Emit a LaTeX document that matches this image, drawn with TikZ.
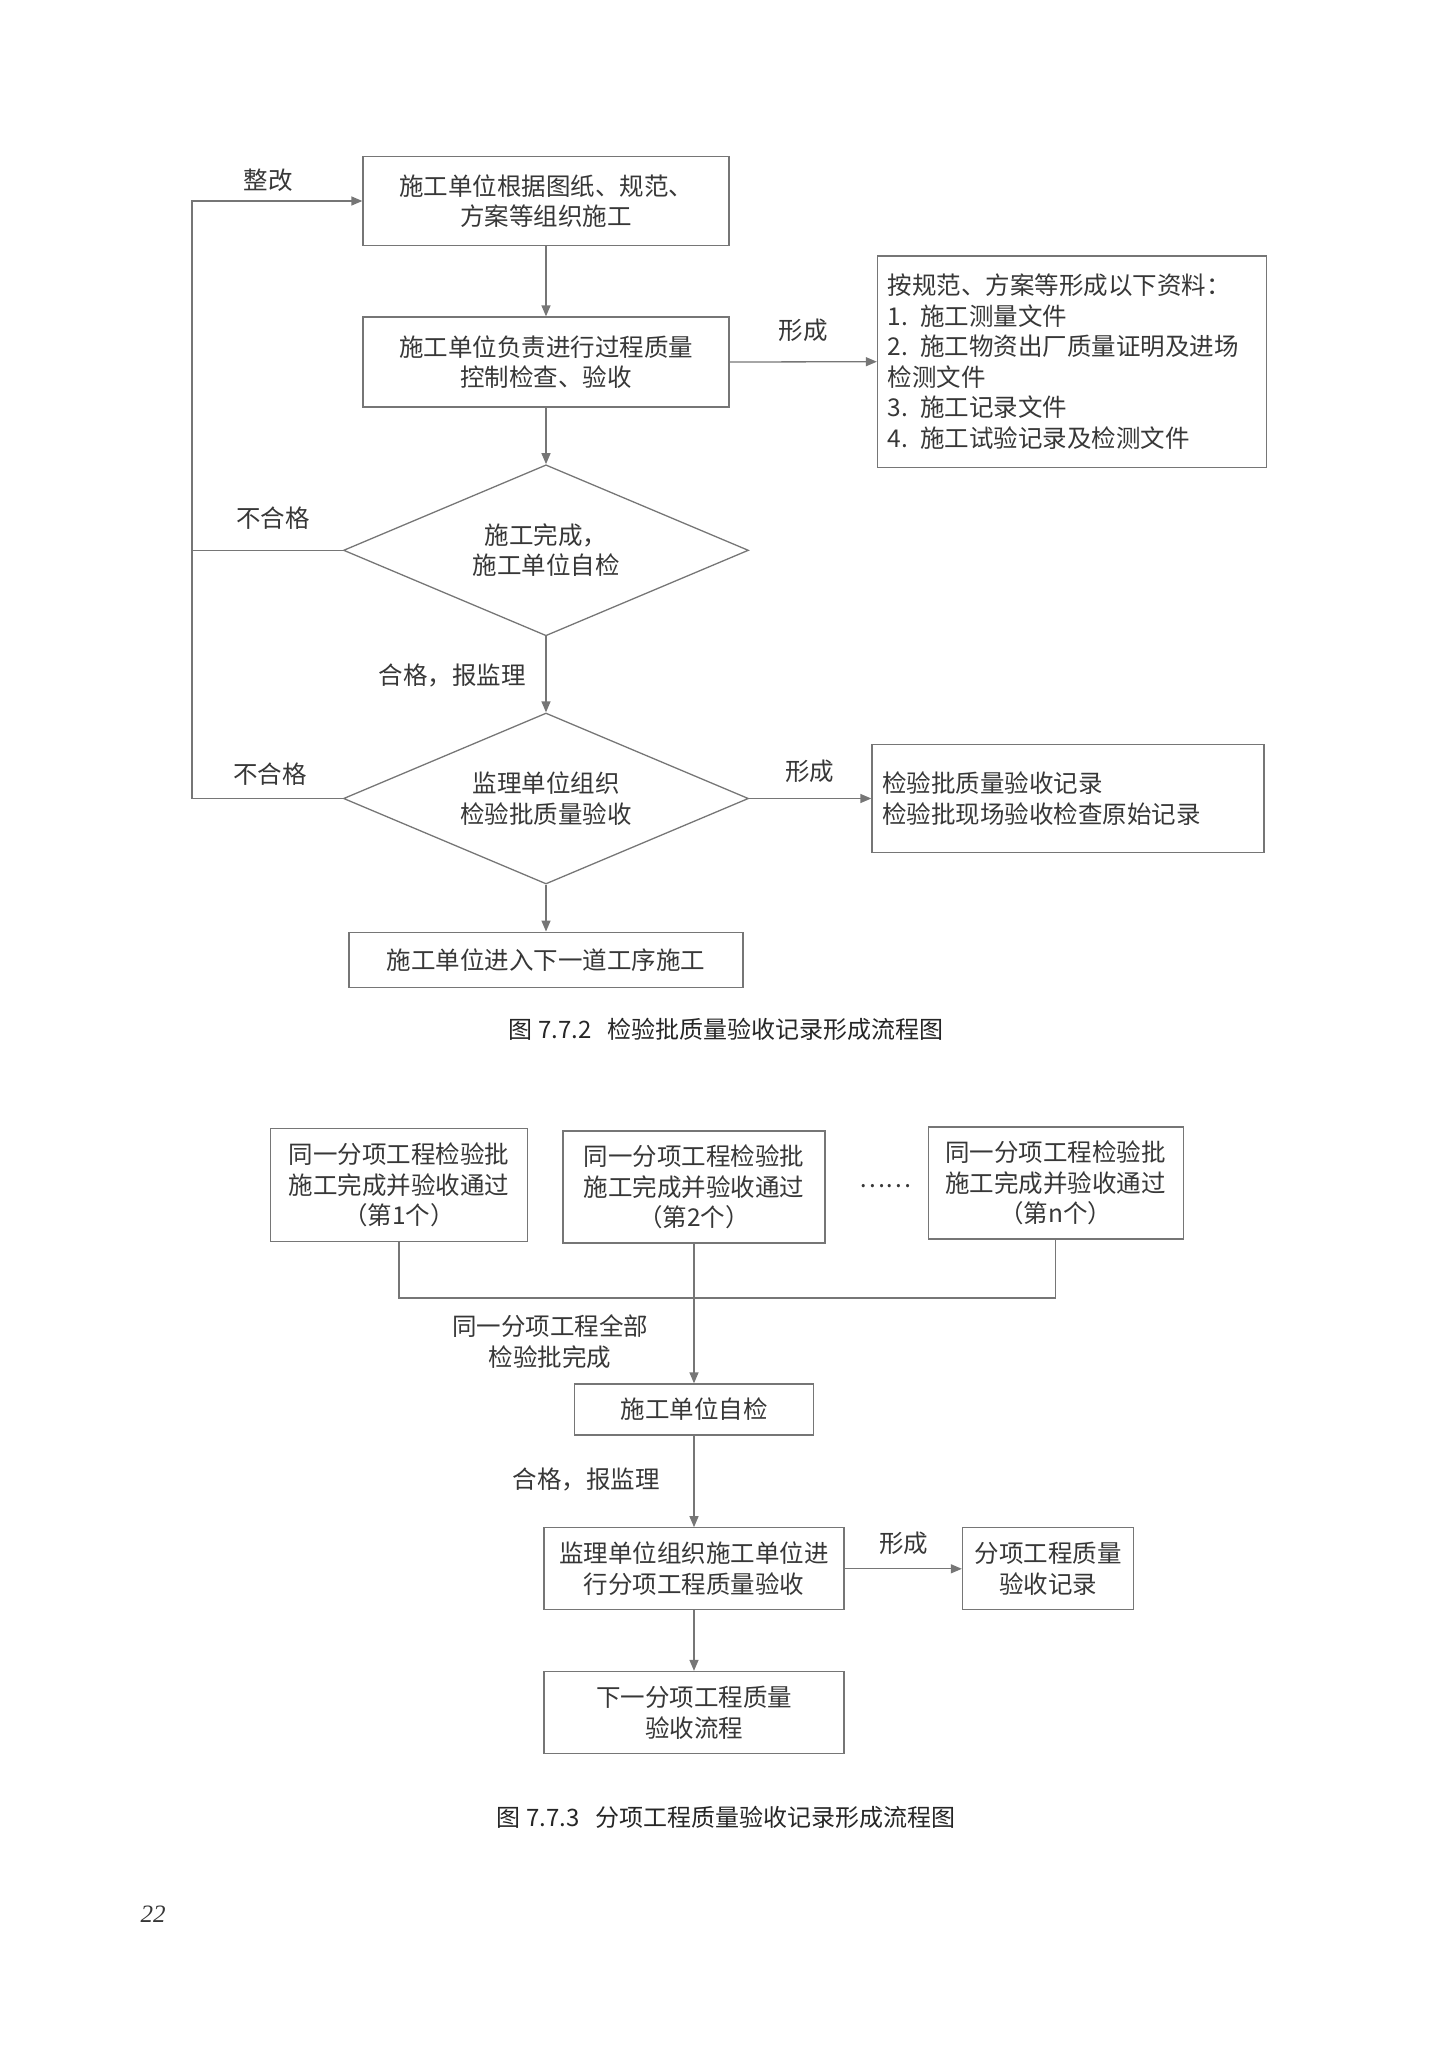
\documentclass[tikz,border=0pt]{standalone}
\usepackage{fontspec}
\setmainfont{Liberation Serif}
\newfontfamily\cjk{Noto Sans CJK SC}
\usetikzlibrary{shapes.geometric,arrows.meta}
\definecolor{linec}{RGB}{118,118,118}
\definecolor{txtc}{RGB}{55,55,55}
\tikzset{
  base/.style={font=\cjk\fontsize{24.5}{30.5}\selectfont, text=txtc},
  box/.style={base, draw=linec, line width=1.3pt, inner sep=0pt, align=center},
  lbox/.style={box, align=left, inner xsep=10pt},
  dia/.style={box, shape=diamond, shape aspect=2.37},
  lbl/.style={base, inner sep=0pt, align=center},
  arr/.style={draw=linec, line width=1.3pt, -{Triangle[length=11pt,width=9pt]}},
  plain/.style={draw=linec, line width=1.3pt},
  captxt/.style={font=\cjk\fontsize{24}{30}\selectfont, text=black!85, inner sep=0pt}
}
\begin{document}
\begin{tikzpicture}[x=1pt,y=-1pt]
\useasboundingbox (0,0) rectangle (1448,2048);
% ---------- Figure 7.7.2 ----------
\node[box, minimum width=366pt, minimum height=89pt] (b1) at (546,201) {施工单位根据图纸、规范、\\方案等组织施工};
\node[box, minimum width=366pt, minimum height=90pt] (b2) at (546,362) {施工单位负责进行过程质量\\控制检查、验收};
\node[lbox, text width=369pt, minimum height=211.5pt] (b3) at (1072,361.7) {按规范、方案等形成以下资料：\\1. 施工测量文件\\2. 施工物资出厂质量证明及进场\\检测文件\\3. 施工记录文件\\4. 施工试验记录及检测文件};
\node[dia, minimum width=405pt, minimum height=171pt] (d1) at (546,550.3) {施工完成，\\施工单位自检};
\node[dia, minimum width=405pt, minimum height=171pt] (d2) at (546,798.5) {监理单位组织\\检验批质量验收};
\node[lbox, text width=372pt, minimum height=108.4pt] (b4) at (1068,798.5) {检验批质量验收记录\\检验批现场验收检查原始记录};
\node[box, minimum width=394pt, minimum height=55pt] (b5) at (546,959.7) {施工单位进入下一道工序施工};
\coordinate (lx) at (192,201);

\draw[arr] (b1) -- (b2);
\draw[arr] (b2.east) -- (b3.west);
\draw[arr] (b2) -- (d1.north);
\draw[arr] (d1.south) -- (d2.north);
\draw[arr] (d2.east) -- (b4.west);
\draw[arr] (d2.south) -- (b5.north);
\draw[plain] (d1.west) -- (d1.west -| lx);
\draw[arr] (d2.west) -- (d2.west -| lx) -- (b1.west -| lx) -- (b1.west);

\node[lbl] (l1) at (268,180) {整改};
\node[lbl] (l2) at (803,330) {形成};
\node[lbl] (l3) at (273,518.5) {不合格};
\node[lbl] (l4) at (452,675) {合格，报监理};
\node[lbl] (l5) at (270,774) {不合格};
\node[lbl] (l6) at (809.5,771.5) {形成};
\node[captxt] (c1) at (726,1029) {图 7.7.2\hspace{16pt}检验批质量验收记录形成流程图};

% ---------- Figure 7.7.3 ----------
\node[box, minimum width=257pt, minimum height=113.6pt] (a1) at (399,1185) {同一分项工程检验批\\施工完成并验收通过\\（第1个）};
\node[box, minimum width=262pt, minimum height=112pt] (a2) at (694,1187) {同一分项工程检验批\\施工完成并验收通过\\（第2个）};
\node[box, minimum width=255pt, minimum height=112pt] (a3) at (1055.7,1183) {同一分项工程检验批\\施工完成并验收通过\\（第n个）};
\node[lbl] (dots) at (885,1186) {……};
\node[box, minimum width=239pt, minimum height=51pt] (bb) at (694,1409.5) {施工单位自检};
\node[box, minimum width=300pt, minimum height=82pt] (cc) at (694,1568.8) {监理单位组织施工单位进\\行分项工程质量验收};
\node[box, minimum width=171pt, minimum height=82pt] (dd) at (1048,1568.8) {分项工程质量\\验收记录};
\node[box, minimum width=300pt, minimum height=82pt] (ee) at (694,1712.5) {下一分项工程质量\\验收流程};
\coordinate (hj) at (694,1298);

\draw[plain] (a1.south) -- (a1.south |- hj) -- (a3.south |- hj) -- (a3.south);
\draw[arr] (a2.south) -- (bb.north);
\draw[arr] (bb) -- (cc);
\draw[arr] (cc.east) -- (dd.west);
\draw[arr] (cc) -- (ee);

\node[lbl] (m1) at (550,1341.5) {同一分项工程全部\\检验批完成};
\node[lbl] (m2) at (586,1479.5) {合格，报监理};
\node[lbl] (m3) at (903.5,1543.3) {形成};
\node[captxt] (c2) at (726,1817.5) {图 7.7.3\hspace{16pt}分项工程质量验收记录形成流程图};

\node[font=\itshape\fontsize{25}{30}\selectfont, text=txtc, inner sep=0pt] (pg) at (153,1914) {22};
\end{tikzpicture}
\end{document}
